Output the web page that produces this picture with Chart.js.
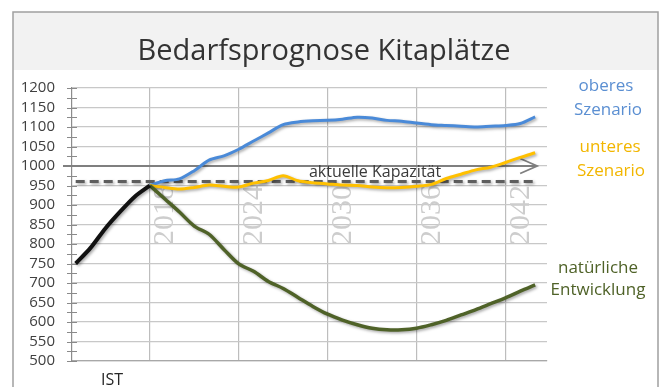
<!DOCTYPE html>
<html lang="de">
<head>
<meta charset="utf-8">
<title>Bedarfsprognose Kitaplätze</title>
<script src="https://cdn.jsdelivr.net/npm/chart.js@4.4.1/dist/chart.umd.min.js"></script>
<style>
  html, body { margin: 0; padding: 0; background: #ffffff; }
  canvas { display: block; }
</style>
</head>
<body>
<canvas id="chart" width="662" height="387"></canvas>
<script>
// Ist-Werte (Kitaplätze belegt)
const istJahre = [2013, 2014, 2015, 2016, 2017, 2018];
const istWerte = [750, 790, 840, 883, 922, 950];

// Prognosejahre
const prognoseJahre = [2018, 2019, 2020, 2021, 2022, 2023, 2024, 2025, 2026, 2027,
                       2028, 2029, 2030, 2031, 2032, 2033, 2034, 2035, 2036, 2037,
                       2038, 2039, 2040, 2041, 2042, 2043, 2044];

// Szenarien
const oberesSzenario = [950, 962, 967, 988, 1015, 1026, 1043, 1064, 1085, 1106,
                        1113, 1116, 1117, 1120, 1125, 1123, 1117, 1115, 1110, 1106,
                        1104, 1102, 1100, 1102, 1104, 1109, 1126];
const unteresSzenario = [950, 945, 941, 945, 951, 948, 946, 956, 963, 975,
                         962, 957, 954, 951, 950, 946, 944, 945, 948, 953,
                         968, 979, 990, 997, 1009, 1022, 1034];
const natuerlicheEntwicklung = [950, 916, 882, 846, 825, 786, 749, 730, 704, 686,
                                663, 640, 620, 605, 593, 584, 580, 580, 584, 593,
                                604, 618, 632, 647, 662, 679, 695];

// Kapazität
const kapazitaetJahre = [2013, 2044];
const kapazitaet = 960;
const kapazitaetPfeil = 1000;

// Achsenbeschriftungen
const jahresTicks = [2018, 2024, 2030, 2036, 2042];
const yMin = 500, yMax = 1200, yHauptschritt = 50, yNebenschritt = 25;

const FONT = "'Open Sans', 'DejaVu Sans', sans-serif";

function punkte(xs, ys) {
  return xs.map((x, i) => ({ x: x, y: ys[i] }));
}

// Rahmen, Titelband und Titel
const rahmenPlugin = {
  id: 'rahmen',
  beforeDraw(chart) {
    const ctx = chart.ctx;
    ctx.save();
    ctx.fillStyle = '#ffffff';
    ctx.fillRect(0, 0, chart.width, chart.height);
    ctx.fillStyle = '#f2f2f2';
    ctx.fillRect(13, 12, 645, 58);
    ctx.strokeStyle = '#a0a0a0';
    ctx.lineWidth = 1.5;
    ctx.beginPath();
    ctx.moveTo(13, chart.height + 2);
    ctx.lineTo(13, 12);
    ctx.lineTo(658, 12);
    ctx.lineTo(658, chart.height + 2);
    ctx.stroke();
    ctx.fillStyle = '#333333';
    ctx.font = '29px ' + FONT;
    ctx.textAlign = 'center';
    ctx.textBaseline = 'alphabetic';
    ctx.fillText('Bedarfsprognose Kitaplätze', 324, 60);
    ctx.restore();
  }
};

// Jahreszahlen im Diagramm, Kapazitätspfeil, Achsenstriche
const achsenPlugin = {
  id: 'achsen',
  beforeDatasetsDraw(chart) {
    const ctx = chart.ctx;
    const xs = chart.scales.x, ys = chart.scales.y;
    const area = chart.chartArea;
    ctx.save();
    // senkrechte Jahreszahlen
    ctx.fillStyle = '#cdcdcd';
    ctx.font = "30px 'Liberation Serif', 'DejaVu Serif', serif";
    ctx.textAlign = 'left';
    ctx.textBaseline = 'alphabetic';
    xs.ticks.forEach(t => {
      const px = xs.getPixelForValue(t.value);
      ctx.save();
      ctx.translate(px + 23, 245);
      ctx.rotate(-Math.PI / 2);
      ctx.fillText(String(t.value), 0, 0);
      ctx.restore();
    });
    // Striche an der y-Achse
    ctx.strokeStyle = '#8a8a8a';
    ctx.lineWidth = 1;
    ys.ticks.forEach(t => {
      const py = Math.round(ys.getPixelForValue(t.value)) + 0.5;
      ctx.beginPath();
      ctx.moveTo(area.left - 5, py);
      ctx.lineTo(area.left + 5, py);
      ctx.stroke();
    });
    // Pfeil auf Höhe der Kapazitätsgrenze
    const py = ys.getPixelForValue(kapazitaetPfeil);
    const xEnde = xs.getPixelForValue(prognoseJahre[prognoseJahre.length - 1]) + 2;
    ctx.strokeStyle = '#7f7f7f';
    ctx.lineWidth = 1.8;
    ctx.beginPath();
    ctx.moveTo(area.left - 9, py);
    ctx.lineTo(xEnde, py);
    ctx.stroke();
    ctx.beginPath();
    ctx.moveTo(xEnde - 17, py - 7.5);
    ctx.lineTo(xEnde, py);
    ctx.lineTo(xEnde - 17, py + 7.5);
    ctx.stroke();
    ctx.restore();
  }
};

// weicher Schatten unter den Linien
const schattenPlugin = {
  id: 'schatten',
  beforeDatasetDraw(chart) {
    const ctx = chart.ctx;
    ctx.save();
    ctx.shadowColor = 'rgba(0,0,0,0.35)';
    ctx.shadowBlur = 3;
    ctx.shadowOffsetX = 1.5;
    ctx.shadowOffsetY = 1.5;
  },
  afterDatasetDraw(chart) {
    chart.ctx.restore();
  }
};

// Beschriftungen der Linien
const beschriftungPlugin = {
  id: 'beschriftung',
  afterDatasetsDraw(chart) {
    const ctx = chart.ctx;
    const xs = chart.scales.x, ys = chart.scales.y;
    ctx.save();
    ctx.textAlign = 'center';
    ctx.textBaseline = 'alphabetic';

    ctx.font = '16px ' + FONT;
    ctx.fillStyle = '#3a3a3a';
    ctx.fillText('aktuelle Kapazität', xs.getPixelForValue(2033.2), ys.getPixelForValue(kapazitaet) - 5);

    ctx.font = '17px ' + FONT;
    ctx.fillStyle = '#5b8fd2';
    ctx.fillText('oberes', 606, 91);
    ctx.fillText('Szenario', 608, 115);
    ctx.fillStyle = '#f2b600';
    ctx.fillText('unteres', 610, 152);
    ctx.fillText('Szenario', 611, 176);
    ctx.fillStyle = '#4f6228';
    ctx.fillText('natürliche', 598, 273);
    ctx.fillText('Entwicklung', 598, 295);

    ctx.font = '16px ' + FONT;
    ctx.fillStyle = '#262626';
    ctx.fillText('IST', 112, 385);
    ctx.restore();
  }
};

const linie = (label, xs, ys, farbe, breite, extra) => Object.assign({
  label: label,
  data: punkte(xs, ys),
  borderColor: farbe,
  backgroundColor: farbe,
  borderWidth: breite,
  pointRadius: 0,
  tension: 0.3,
  fill: false
}, extra || {});

new Chart(document.getElementById('chart'), {
  type: 'line',
  data: {
    datasets: [
      linie('IST', istJahre, istWerte, '#111111', 4),
      linie('natürliche Entwicklung', prognoseJahre, natuerlicheEntwicklung, '#4f6228', 3.5),
      linie('unteres Szenario', prognoseJahre, unteresSzenario, '#ffc000', 3),
      linie('oberes Szenario', prognoseJahre, oberesSzenario, '#4a8ad8', 3),
      linie('aktuelle Kapazität', kapazitaetJahre, kapazitaetJahre.map(() => kapazitaet), '#5e5e5e', 3,
            { borderDash: [9, 5], tension: 0 })
    ]
  },
  options: {
    responsive: false,
    animation: false,
    devicePixelRatio: 1,
    layout: { padding: { left: 0, right: 115, top: 88, bottom: 23 } },
    plugins: {
      legend: { display: false },
      title: { display: false },
      tooltip: { enabled: false }
    },
    scales: {
      x: {
        type: 'linear',
        min: 2012.75,
        max: 2044.8,
        afterBuildTicks(scale) {
          scale.ticks = jahresTicks.map(v => ({ value: v }));
        },
        afterFit(scale) { scale.height = 0; },
        ticks: { display: false },
        grid: { color: '#bdbdbd', lineWidth: 1.2, drawTicks: false },
        border: { color: '#a8a8a8', width: 1.2 }
      },
      y: {
        min: yMin,
        max: yMax,
        afterFit(scale) { scale.width = 72; },
        ticks: {
          stepSize: yNebenschritt,
          autoSkip: false,
          padding: 17,
          color: '#404040',
          font: { family: "'Open Sans', 'DejaVu Sans', sans-serif", size: 15 },
          callback: v => (v % yHauptschritt === 0 ? v : '')
        },
        grid: {
          drawTicks: false,
          lineWidth: 1.2,
          color: c => (c.tick && c.tick.value % yHauptschritt === 0 ? '#c8c8c8' : 'rgba(0,0,0,0)')
        },
        border: { color: '#8c8c8c', width: 1.2 }
      }
    }
  },
  plugins: [rahmenPlugin, achsenPlugin, schattenPlugin, beschriftungPlugin]
});
</script>
</body>
</html>
